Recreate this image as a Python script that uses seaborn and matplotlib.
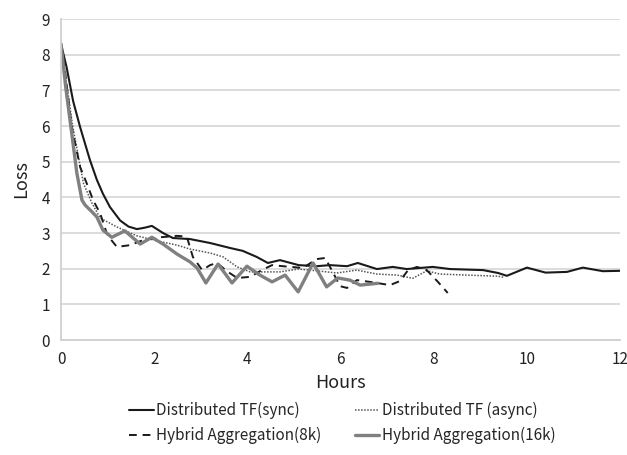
import pandas as pd
import numpy as np
import matplotlib
matplotlib.use('Agg')
import matplotlib.pyplot as plt
import seaborn as sns

# values (hours, loss)
sync_x = [0, 0.12, 0.26, 0.41, 0.62, 0.77, 0.9, 1.05, 1.27, 1.45, 1.63, 1.8, 1.95, 2.19, 2.4, 2.77,
          3.2, 3.63, 3.9, 4.2, 4.44, 4.7, 5.1, 5.49, 5.77, 6.14, 6.37, 6.78, 7.12, 7.42, 7.98, 8.35,
          9.06, 9.38, 9.57, 10.0, 10.4, 10.86, 11.2, 11.63, 12.0]
sync_y = [8.3, 7.65, 6.7, 5.97, 5.05, 4.49, 4.1, 3.73, 3.35, 3.18, 3.11, 3.15, 3.2, 3.0, 2.86, 2.83,
          2.72, 2.58, 2.5, 2.33, 2.16, 2.24, 2.1, 2.07, 2.1, 2.07, 2.16, 1.99, 2.05, 1.99, 2.05, 1.99,
          1.96, 1.88, 1.8, 2.03, 1.89, 1.91, 2.03, 1.93, 1.94]

async_x = [0, 0.12, 0.25, 0.48, 0.66, 0.84, 1.2, 1.63, 2.06, 2.49, 2.77, 3.2, 3.48, 3.78, 4.06, 4.33,
           4.7, 5.09, 5.49, 5.92, 6.35, 6.78, 7.21, 7.55, 7.85, 8.13, 8.71, 9.38, 9.49]
async_y = [8.3, 7.2, 6.0, 4.4, 3.85, 3.42, 3.17, 2.92, 2.78, 2.66, 2.55, 2.44, 2.33, 2.05, 1.91, 1.91,
           1.91, 1.99, 1.94, 1.88, 1.96, 1.85, 1.82, 1.73, 1.94, 1.85, 1.82, 1.79, 1.76]

h8k_x = [0, 0.09, 0.23, 0.41, 0.55, 0.69, 0.84, 0.98, 1.05, 1.2, 1.48, 1.76, 2.12, 2.49, 2.7, 2.83,
         3.03, 3.2, 3.35, 3.56, 3.78, 4.06, 4.31, 4.53, 4.76, 5.19, 5.49, 5.67, 5.81, 5.99, 6.14,
         6.35, 6.63, 7.06, 7.27, 7.45, 7.64, 7.85, 8.09, 8.3]
h8k_y = [8.3, 7.5, 5.97, 4.85, 4.4, 3.92, 3.55, 3.0, 2.85, 2.61, 2.66, 2.8, 2.88, 2.92, 2.9, 2.33,
         1.96, 2.1, 2.16, 1.93, 1.74, 1.77, 1.96, 2.1, 2.07, 2.02, 2.27, 2.3, 1.96, 1.51, 1.46,
         1.68, 1.63, 1.54, 1.65, 1.96, 2.05, 1.96, 1.63, 1.32]

h16k_x = [0, 0.1, 0.23, 0.34, 0.45, 0.52, 0.66, 0.77, 0.9, 1.09, 1.37, 1.7, 1.95, 2.19, 2.49, 2.77,
          2.92, 3.11, 3.37, 3.67, 3.99, 4.27, 4.53, 4.81, 5.09, 5.41, 5.7, 5.94, 6.2, 6.42, 6.8]
h16k_y = [8.3, 7.1, 5.8, 4.68, 3.92, 3.78, 3.6, 3.45, 3.08, 2.88, 3.06, 2.69, 2.88, 2.69, 2.41, 2.19,
          2.02, 1.6, 2.13, 1.6, 2.07, 1.82, 1.63, 1.82, 1.35, 2.16, 1.49, 1.74, 1.68, 1.54, 1.59]

sns.set_theme(style="white")
plt.rcParams['font.family'] = ['Noto Sans CJK KR', 'DejaVu Sans']

fig = plt.figure(figsize=(6.27, 4.55), dpi=100)
ax = fig.add_axes([0.0973, 0.2527, 0.8917, 0.7055])

sns.lineplot(x=sync_x, y=sync_y, sort=False, ax=ax, color='#1a1a1a', lw=1.5,
             label='Distributed TF(sync)')
sns.lineplot(x=async_x, y=async_y, sort=False, ax=ax, color='#555555', lw=1.1,
             linestyle=(0, (1, 1)), label='Distributed TF (async)')
sns.lineplot(x=h8k_x, y=h8k_y, sort=False, ax=ax, color='#1a1a1a', lw=1.4,
             linestyle=(0, (4, 3)), label='Hybrid Aggregation(8k)')
sns.lineplot(x=h16k_x, y=h16k_y, sort=False, ax=ax, color='#808080', lw=2.4,
             label='Hybrid Aggregation(16k)')
for ln in ax.lines:
    ln.set_solid_joinstyle('round')
    ln.set_dash_joinstyle('round')

ax.set_xlim(0, 12)
ax.set_ylim(0, 9)
ax.set_xticks(range(0, 13, 2))
ax.set_yticks(range(0, 10))
ax.yaxis.grid(True, color='#d9d9d9', lw=1.3)
ax.xaxis.grid(False)
for s in ['top', 'right']:
    ax.spines[s].set_visible(False)
for s in ['left', 'bottom']:
    ax.spines[s].set_color('#d0d0d0')
    ax.spines[s].set_linewidth(1.3)
ax.tick_params(axis='both', length=0, labelsize=11, colors='#222222', pad=8)
ax.set_xlabel('Hours', fontsize=13, color='#222222', labelpad=4)
ax.set_ylabel('Loss', fontsize=13, color='#222222', labelpad=8)

# row-wise legend order: sync, async / 8k, 16k
handles, labels = ax.get_legend_handles_labels()
order = [0, 2, 1, 3]
ax.legend([handles[i] for i in order], [labels[i] for i in order],
          loc='upper center', bbox_to_anchor=(0.503, -0.15), ncol=2, frameon=False,
          fontsize=11, handlelength=1.6, handletextpad=0.15, columnspacing=2.2,
          labelspacing=0.5)

fig.savefig('out.png', dpi=100)
